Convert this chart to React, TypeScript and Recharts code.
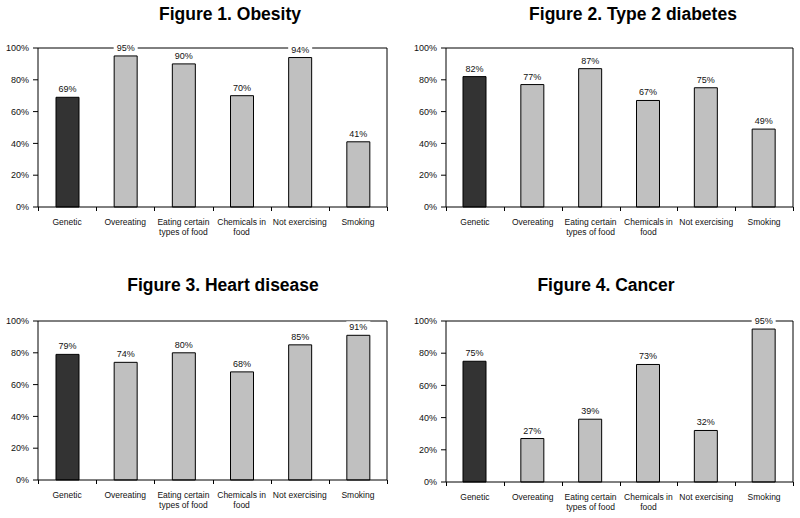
import React from 'react'
import { BarChart, Bar, XAxis, YAxis, Cell, LabelList } from 'recharts'

const categories = [
  'Genetic',
  'Overeating',
  'Eating certain\ntypes of food',
  'Chemicals in\nfood',
  'Not exercising',
  'Smoking',
]
const obesity = [69, 95, 90, 70, 94, 41]
const diabetes = [82, 77, 87, 67, 75, 49]
const heartDisease = [79, 74, 80, 68, 85, 91]
const cancer = [75, 27, 39, 73, 32, 95]
const yTicks = [0, 20, 40, 60, 80, 100]

const FONT = '"Liberation Sans", Arial, sans-serif'
const W = 400
const H = 259

const panels = [
  { title: 'Figure 1. Obesity', values: obesity, x: 0, y: 0, left: 38, right: 387, top: 48, bottom: 207, titleX: 230, titleTop: 4 },
  { title: 'Figure 2. Type 2 diabetes', values: diabetes, x: 400, y: 0, left: 46, right: 393, top: 48, bottom: 207, titleX: 233, titleTop: 4 },
  { title: 'Figure 3. Heart disease', values: heartDisease, x: 0, y: 259, left: 38, right: 387, top: 62, bottom: 221, titleX: 223, titleTop: 16 },
  { title: 'Figure 4. Cancer', values: cancer, x: 400, y: 259, left: 46, right: 393, top: 62, bottom: 223, titleX: 206, titleTop: 16 },
]

// category label, plus the small tick marks that sit on the category boundaries
const CategoryTick = (props: any) => {
  const { x, payload, index, baseY, band, count } = props
  const lines = String(payload.value).split('\n')
  const lx = Math.round(x - band / 2) + 0.5
  const rx = Math.round(x + band / 2) + 0.5
  return (
    <g>
      <line x1={lx} x2={lx} y1={baseY} y2={baseY + 4} stroke="#000" />
      {index === count - 1 && <line x1={rx} x2={rx} y1={baseY} y2={baseY + 4} stroke="#000" />}
      {lines.map((line, i) => (
        <text key={i} x={x} y={baseY + 18 + i * 10} textAnchor="middle" fontSize={8.5} fontFamily={FONT} fill="#111">
          {line}
        </text>
      ))}
    </g>
  )
}

const ValueLabel = (props: any) => {
  const { x, y, width, value } = props
  const cx = x + width / 2
  return (
    <g>
      <rect x={cx - 12} y={y - 14} width={24} height={10} fill="#fff" />
      <text x={cx} y={y - 5} textAnchor="middle" fontSize={9} fontFamily={FONT} fill="#111">
        {value}%
      </text>
    </g>
  )
}

const Panel = ({ p }: { p: (typeof panels)[number] }) => {
  const data = categories.map((name, i) => ({ name, value: p.values[i] }))
  const band = (p.right - p.left) / categories.length
  return (
    <div style={{ position: 'absolute', left: p.x, top: p.y, width: W, height: H }}>
      <div
        style={{
          position: 'absolute',
          left: p.titleX - 150,
          width: 300,
          top: p.titleTop,
          textAlign: 'center',
          fontFamily: FONT,
          fontWeight: 'bold',
          fontSize: 17.5,
          lineHeight: '20px',
          color: '#000',
        }}
      >
        {p.title}
      </div>
      <BarChart
        width={W}
        height={H}
        data={data}
        margin={{ top: p.top - 1, right: W - p.right - 1, left: 0, bottom: 0 }}
        barCategoryGap={0}
      >
        {/* frame: top and right edges */}
        <XAxis xAxisId="top" orientation="top" dataKey="name" tick={false} tickLine={false} height={1} axisLine={{ stroke: '#000' }} />
        <YAxis yAxisId="r" orientation="right" dataKey="value" domain={[0, 100]} tick={false} tickLine={false} width={1} axisLine={{ stroke: '#000' }} />
        <XAxis
          dataKey="name"
          height={H - p.bottom}
          interval={0}
          axisLine={{ stroke: '#000' }}
          tickLine={false}
          tick={<CategoryTick baseY={p.bottom} band={band} count={categories.length} />}
        />
        <YAxis
          width={p.left}
          domain={[0, 100]}
          ticks={yTicks}
          tickSize={5}
          tickMargin={4}
          tickFormatter={(v) => `${v}%`}
          tick={{ fontSize: 9, fontFamily: FONT, fill: '#111' }}
          tickLine={{ stroke: '#000' }}
          axisLine={{ stroke: '#000' }}
        />
        <Bar dataKey="value" barSize={23} stroke="#000" strokeWidth={1} isAnimationActive={false}>
          {data.map((d, i) => (
            <Cell key={d.name} fill={i === 0 ? '#333333' : '#c0c0c0'} />
          ))}
          <LabelList dataKey="value" content={<ValueLabel />} />
        </Bar>
      </BarChart>
    </div>
  )
}

export default function App() {
  return (
    <div style={{ position: 'absolute', left: 0, top: 0, width: 800, height: 518, background: '#fff' }}>
      {panels.map((p) => (
        <Panel key={p.title} p={p} />
      ))}
    </div>
  )
}
